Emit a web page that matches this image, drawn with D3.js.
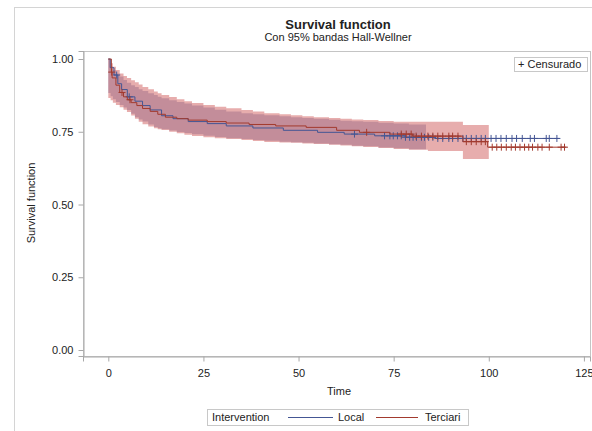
<!DOCTYPE html>
<html>
<head>
<meta charset="utf-8">
<script src="https://cdn.jsdelivr.net/npm/d3@7"></script>
<style>
  body { margin:0; background:#fff; }
  svg text { font-family: "Liberation Sans", Arial, sans-serif; fill:#222; }
</style>
</head>
<body>
<div id="chart"></div>
<script>
/* Kaplan-Meier survival curves with Hall-Wellner bands, by Intervention */
const TIME_TICKS = [0, 25, 50, 75, 100, 125];
const SURV_TICKS = [0, 0.25, 0.5, 0.75, 1];
const GROUPS = ['Local', 'Terciari'];

// step curves (time at which each survival value starts)
const localTimes = [0, 0.5, 1.5, 2.5, 3.5, 5, 7, 9, 11, 14, 17, 21, 26, 31, 38, 46, 55, 62, 70, 78, 86];
const localSurv  = [1.0, 0.97, 0.945, 0.915, 0.895, 0.87, 0.855, 0.84, 0.825, 0.805, 0.795, 0.785, 0.778, 0.77, 0.763, 0.755, 0.748, 0.742, 0.736, 0.731, 0.727];
const localEnd = 118.6;

const terciariTimes = [0, 0.8, 1, 2, 3, 4, 5, 6, 7.5, 9, 11, 13, 15, 18, 21, 26, 31, 37, 44, 52, 60, 66, 74, 80, 93.2, 99.7];
const terciariSurv  = [1.0, 0.955, 0.935, 0.91, 0.885, 0.87, 0.86, 0.85, 0.84, 0.83, 0.82, 0.81, 0.80, 0.795, 0.79, 0.785, 0.78, 0.775, 0.77, 0.765, 0.755, 0.748, 0.742, 0.735, 0.716, 0.697];
const terciariEnd = 120.4;

// Hall-Wellner bands
const localBandTimes = [0, 0.6, 1.2, 2, 3, 4, 4.9, 6, 7, 8, 9, 10.5, 12, 13, 14, 16, 18, 20, 22, 25, 28, 31, 35, 38, 41, 45, 48, 51, 54, 58, 61, 64, 67, 71, 75, 79];
const localBandUpper = [1.0, 0.975, 0.962, 0.95, 0.94, 0.928, 0.918, 0.91, 0.904, 0.896, 0.89, 0.882, 0.876, 0.87, 0.865, 0.858, 0.852, 0.847, 0.84, 0.833, 0.826, 0.82, 0.814, 0.81, 0.807, 0.803, 0.80, 0.797, 0.795, 0.791, 0.788, 0.786, 0.784, 0.781, 0.778, 0.775];
const localBandLower = [0.883, 0.872, 0.862, 0.852, 0.842, 0.833, 0.825, 0.812, 0.80, 0.792, 0.785, 0.775, 0.766, 0.762, 0.759, 0.754, 0.749, 0.746, 0.741, 0.736, 0.732, 0.728, 0.725, 0.722, 0.719, 0.716, 0.714, 0.712, 0.71, 0.707, 0.705, 0.702, 0.70, 0.696, 0.693, 0.69];
const localBandEnd = 83.5;

const terciariBandTimes = [0, 0.6, 1.2, 2, 3, 4, 4.9, 6, 7, 8, 9, 10.5, 12, 13, 14, 16, 18, 20, 22, 25, 28, 31, 35, 38, 41, 45, 48, 51, 54, 58, 61, 64, 67, 71, 75, 79, 84, 93.2];
const terciariBandUpper = [1.0, 0.985, 0.973, 0.962, 0.95, 0.942, 0.935, 0.927, 0.92, 0.912, 0.904, 0.896, 0.888, 0.882, 0.876, 0.869, 0.862, 0.855, 0.849, 0.842, 0.836, 0.831, 0.825, 0.82, 0.814, 0.81, 0.807, 0.803, 0.80, 0.797, 0.795, 0.792, 0.79, 0.787, 0.784, 0.784, 0.784, 0.773];
const terciariBandLower = [0.866, 0.858, 0.85, 0.842, 0.834, 0.826, 0.818, 0.806, 0.795, 0.784, 0.776, 0.768, 0.762, 0.759, 0.756, 0.75, 0.745, 0.74, 0.735, 0.731, 0.728, 0.725, 0.722, 0.718, 0.715, 0.713, 0.712, 0.71, 0.708, 0.705, 0.703, 0.70, 0.698, 0.694, 0.691, 0.688, 0.684, 0.656];
const terciariBandEnd = 100;

// censored observations
const localCensor = [2.2, 5.5, 64.7, 72.6, 74, 74.9, 76, 77, 78.1, 79.2, 80.1, 81, 82.3, 83.1, 84.2, 85.3, 86.6, 87.9, 89.5, 90.5, 91.9, 93.2,
  94.1, 95.4, 96.7, 98.0, 99.1, 100.6, 101.9, 103.2, 104.6, 106.1, 107.3, 108.8, 110.9, 112.0, 115.1, 115.9, 117.9];
const terciariCensor = [0.9, 3.6, 5.7, 67.9, 77, 78.3, 79.6, 80.9, 82.3, 84, 85.3, 86.6, 87.9, 89.5, 90.5, 91.9,
  94.1, 95.4, 96.7, 98, 99.1, 100.9, 102.1, 103.3, 104.6, 105.9, 107, 108.2, 109.4, 110.5, 111.5, 112.9, 114, 115.9, 119, 119.9];

(function(){
  const W = 592, H = 431;
  const plot = { left:83, right:590, top:51, bottom:356 };
  const COLORS = { Local:'#445694', Terciari:'#A23A2E' };
  const FILLS  = { Local:'#6F7EB3', Terciari:'#D05B5B' };

  const svg = d3.select('#chart').append('svg').attr('width', W).attr('height', H);

  // outer frame
  svg.append('rect').attr('x',14.5).attr('y',7.5).attr('width',W).attr('height',H)
    .attr('fill','#fff').attr('stroke','#d4d4d4');

  const x = d3.scaleLinear().domain([-6.65, 126.6]).range([plot.left, plot.right]);
  const y = d3.scaleLinear().domain([-0.0206, 1.0275]).range([plot.bottom, plot.top]);

  function steps(times, vals, end){
    const pts = times.map((t,i)=>({t, v:vals[i]}));
    pts.push({t:end, v:vals[vals.length-1]});
    return pts;
  }
  function bandSteps(times, lo, hi, end){
    const pts = times.map((t,i)=>({t, lo:lo[i], hi:hi[i]}));
    pts.push({t:end, lo:lo[lo.length-1], hi:hi[hi.length-1]});
    return pts;
  }
  function valueAt(times, vals, t){
    let idx = 0;
    for(let i=0;i<times.length;i++){ if(times[i] <= t) idx = i; }
    return vals[idx];
  }

  const series = [
    { key:'Local', curve: steps(localTimes, localSurv, localEnd),
      band: bandSteps(localBandTimes, localBandLower, localBandUpper, localBandEnd),
      censor: localCensor.map(t=>({t, v:valueAt(localTimes, localSurv, t)})) },
    { key:'Terciari', curve: steps(terciariTimes, terciariSurv, terciariEnd),
      band: bandSteps(terciariBandTimes, terciariBandLower, terciariBandUpper, terciariBandEnd),
      censor: terciariCensor.map(t=>({t, v:valueAt(terciariTimes, terciariSurv, t)})) }
  ];

  // plot wall
  svg.append('rect').attr('x',plot.left+0.5).attr('y',plot.top+0.5)
    .attr('width',plot.right-plot.left).attr('height',plot.bottom-plot.top)
    .attr('fill','#fff').attr('stroke','#c4c4c4');

  const area = d3.area().curve(d3.curveStepAfter)
    .x(d=>x(d.t)).y0(d=>y(d.lo)).y1(d=>y(d.hi));
  const line = d3.line().curve(d3.curveStepAfter)
    .x(d=>x(d.t)).y(d=>y(d.v));

  series.forEach(s=>{
    svg.append('path').datum(s.band).attr('d', area)
      .attr('fill', FILLS[s.key]).attr('fill-opacity', 0.5);
  });
  series.forEach(s=>{
    svg.append('path').datum(s.curve).attr('d', line)
      .attr('fill','none').attr('stroke', COLORS[s.key]).attr('stroke-width',1);
    const m = 3.5;
    svg.append('g').selectAll('path').data(s.censor).enter().append('path')
      .attr('d', d=>{
        const cx = x(d.t), cy = y(d.v);
        return `M${cx-m},${cy}H${cx+m}M${cx},${cy-m}V${cy+m}`;
      })
      .attr('stroke', COLORS[s.key]).attr('stroke-width',1).attr('fill','none');
  });

  // axes
  const yAxis = d3.axisLeft(y).tickValues(SURV_TICKS).tickFormat(d3.format('.2f'))
    .tickSize(5).tickPadding(5);
  const gy = svg.append('g').attr('transform',`translate(${plot.left+0.5},0)`).call(yAxis);
  const xAxis = d3.axisBottom(x).tickValues(TIME_TICKS).tickFormat(d3.format('d'))
    .tickSize(5).tickPadding(8);
  const gx = svg.append('g').attr('transform',`translate(0,${plot.bottom+0.5})`).call(xAxis);
  [gx, gy].forEach(g=>{
    g.select('.domain').attr('stroke','#a8a8a8');
    g.selectAll('.tick line').attr('stroke','#a8a8a8');
    g.selectAll('.tick text').style('font-size','11px').attr('fill','#222')
      .style('font-family','"Liberation Sans", Arial, sans-serif');
  });

  // axis labels
  svg.append('text').attr('x', 339).attr('y', 395).attr('text-anchor','middle')
    .style('font-size','11px').text('Time');
  svg.append('text').attr('transform','translate(35,203) rotate(-90)').attr('text-anchor','middle')
    .style('font-size','11px').text('Survival function');

  // titles
  svg.append('text').attr('x', 338).attr('y', 29).attr('text-anchor','middle')
    .style('font-size','13px').style('font-weight','bold').attr('fill','#000').text('Survival function');
  svg.append('text').attr('x', 338).attr('y', 41).attr('text-anchor','middle')
    .style('font-size','11px').text('Con 95% bandas Hall-Wellner');

  // inset legend
  svg.append('rect').attr('x',514.5).attr('y',57.5).attr('width',73).attr('height',14)
    .attr('fill','#fff').attr('stroke','#c8c8c8');
  svg.append('text').attr('x',518).attr('y',68).style('font-size','11px').text('+ Censurado');

  // bottom legend
  const leg = svg.append('g');
  leg.append('rect').attr('x',207.5).attr('y',409.5).attr('width',261).attr('height',16)
    .attr('fill','#fff').attr('stroke','#c8c8c8');
  leg.append('text').attr('x',212).attr('y',421).style('font-size','11px').text('Intervention');
  const legPos = { Local:{x1:288, x2:333, tx:338}, Terciari:{x1:376, x2:418, tx:425} };
  GROUPS.forEach(k=>{
    const p = legPos[k];
    leg.append('line').attr('x1',p.x1).attr('x2',p.x2).attr('y1',417.5).attr('y2',417.5)
      .attr('stroke', COLORS[k]).attr('stroke-width',1);
    leg.append('text').attr('x',p.tx).attr('y',421).style('font-size','11px').text(k);
  });
})();
</script>
</body>
</html>
